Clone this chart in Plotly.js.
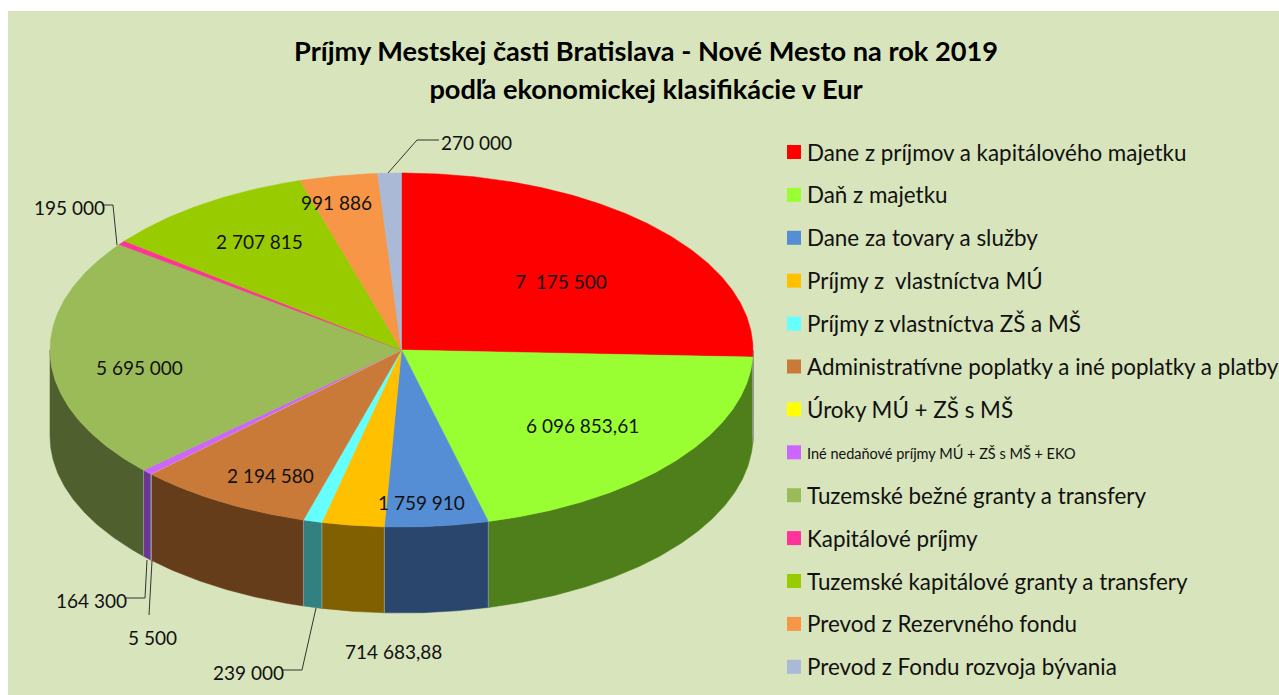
<!DOCTYPE html>
<html>
<head>
<meta charset="utf-8">
<script src="https://cdn.plot.ly/plotly-3.0.1.min.js"></script>
<style>html,body{margin:0;padding:0;background:#fff;overflow:hidden}</style>
</head>
<body>
<div id="chart" style="width:1279px;height:695px"></div>
<script>
// Categories, in clockwise order from 12 o'clock
const categories = [
  "Dane z príjmov a kapitálového majetku",
  "Daň z majetku",
  "Dane za tovary a služby",
  "Príjmy z  vlastníctva MÚ",
  "Príjmy z vlastníctva ZŠ a MŠ",
  "Administratívne poplatky a iné poplatky a platby",
  "Úroky MÚ + ZŠ s MŠ",
  "Iné nedaňové príjmy MÚ + ZŠ s MŠ + EKO",
  "Tuzemské bežné granty a transfery",
  "Kapitálové príjmy",
  "Tuzemské kapitálové granty a transfery",
  "Prevod z Rezervného fondu",
  "Prevod z Fondu rozvoja bývania"
];
// Data labels exactly as printed on the chart
const printedValues = ["7  175 500","6 096 853,61","1 759 910","714 683,88","239 000","2 194 580","","164 300","5 695 000","195 000","2 707 815","991 886","270 000"];
const extraLabel = "5 500";
// Slice sizes in degrees
const sliceDegrees = [92.3,73.4,17.1,10.3,3.1,29.2,0.05,1.75,79.4,1.4,35.2,12.9,3.9];

const topColors  = ["#FF0000","#99FF33","#558ED5","#FFC000","#66FFFF","#C97A38","#FFFF00","#CC66FF","#9BBB59","#FF3399","#99CC00","#F79646","#A9B9D6"];
const wallColors = ["#800000","#4F7F1A","#2A466D","#806000","#338080","#663D1B","#808000","#6B3591","#4F5F2E","#80194D","#4D6600","#7C4B23","#55607A"];

// Pie geometry in pixels
const cx = 401.5, cy = 350, rx = 351.5, ry = 177, depth = 86;
const px = a => cx + rx * Math.sin(a * Math.PI / 180);
const py = a => cy - ry * Math.cos(a * Math.PI / 180);
function arc(a0, a1) {
  const n = Math.max(2, Math.ceil(Math.abs(a1 - a0) / 0.5));
  const out = [];
  for (let i = 0; i <= n; i++) out.push(a0 + (a1 - a0) * i / n);
  return out;
}

const traces = [];
let start = 0;
const edgeX = [], edgeY = [];
const spans = sliceDegrees.map(d => { const s = [start, start + d]; start += d; return s; });

// Side walls (front half only)
spans.forEach((s, i) => {
  const a0 = Math.max(s[0], 90), a1 = Math.min(s[1], 270);
  if (a1 <= a0) return;
  const as = arc(a0, a1);
  const x = as.map(px).concat(as.slice().reverse().map(px));
  const y = as.map(py).concat(as.slice().reverse().map(a => py(a) + depth));
  x.push(x[0]); y.push(y[0]);
  traces.push({type:"scatter", mode:"lines", x, y, fill:"toself", fillcolor:wallColors[i],
    line:{color:wallColors[i], width:0.5}, name:categories[i], hoverinfo:"name", showlegend:false});
  edgeX.push(px(a0), px(a0), null);
  edgeY.push(py(a0), py(a0) + depth, null);
});
traces.push({type:"scatter", mode:"lines", x:edgeX, y:edgeY, line:{color:"rgba(150,165,175,0.75)", width:1},
  hoverinfo:"skip", showlegend:false});

// Top faces
spans.forEach((s, i) => {
  const as = arc(s[0], s[1]);
  const x = [cx].concat(as.map(px), [cx]);
  const y = [cy].concat(as.map(py), [cy]);
  traces.push({type:"scatter", mode:"lines", x, y, fill:"toself", fillcolor:topColors[i],
    line:{color:topColors[i], width:0.5}, name:categories[i], hoverinfo:"name", showlegend:false});
});

// Legend keys
const legendY = categories.map((_, i) => 152 + 42.9 * i);
traces.push({type:"scatter", mode:"markers", x:categories.map(() => 794), y:legendY,
  marker:{symbol:"square", size:14, color:topColors, line:{width:0}}, text:categories, hoverinfo:"text", showlegend:false});

const textColor = "#111111";
const annotations = [];
function label(text, x, y, size, anchor) {
  annotations.push({text, x, y, xref:"x", yref:"y", xanchor:anchor || "center", yanchor:"middle",
    showarrow:false, borderpad:0, font:{family:"Lato, sans-serif", size, color:textColor}});
}
// Legend text
categories.forEach((c, i) => label(c, 806, legendY[i] + (i === 7 ? 1 : 0), i === 7 ? 14.5 : 22.4, "left"));
// Data labels
const labelX = [561,582,421,393,248,270,0,91,139,69,259,336,476];
const labelY = [281,425,502,651,672,475,0,600,367,207,241,202,142];
printedValues.forEach((t, i) => { if (t) label(t, labelX[i], labelY[i], 19); });
label(extraLabel, 152, 637, 19);

// Leader lines
const leaders = [
  "M388,173 L417,140 L439,140",
  "M117,245 L113,205 L102,205",
  "M147,560 L145,598 L126,598",
  "M152,561 L149,615",
  "M316,608 L302,670 L282,670"
];
const shapes = leaders.map(path => ({type:"path", xref:"x", yref:"y", path, line:{color:"#333333", width:1}}));

const layout = {
  width:1279, height:695, autosize:false,
  margin:{l:8, r:0, t:11, b:0, pad:0},
  paper_bgcolor:"#FFFFFF", plot_bgcolor:"#D8E4BC",
  showlegend:false, hovermode:"closest",
  title:{
    text:'<span style="font-size:27.2px">Príjmy Mestskej časti Bratislava - Nové Mesto na rok 2019</span><br><span style="font-size:27.2px">podľa ekonomickej klasifikácie v Eur</span>',
    font:{family:"Lato, sans-serif", size:29, color:"#000000", weight:700},
    x:646/1279, xanchor:"center", y:1-61/695, yanchor:"top", automargin:false
  },
  xaxis:{range:[8,1279], visible:false, fixedrange:true},
  yaxis:{range:[695,11], visible:false, fixedrange:true},
  annotations, shapes
};
Plotly.newPlot("chart", traces, layout, {displayModeBar:false, staticPlot:false});
</script>
</body>
</html>
